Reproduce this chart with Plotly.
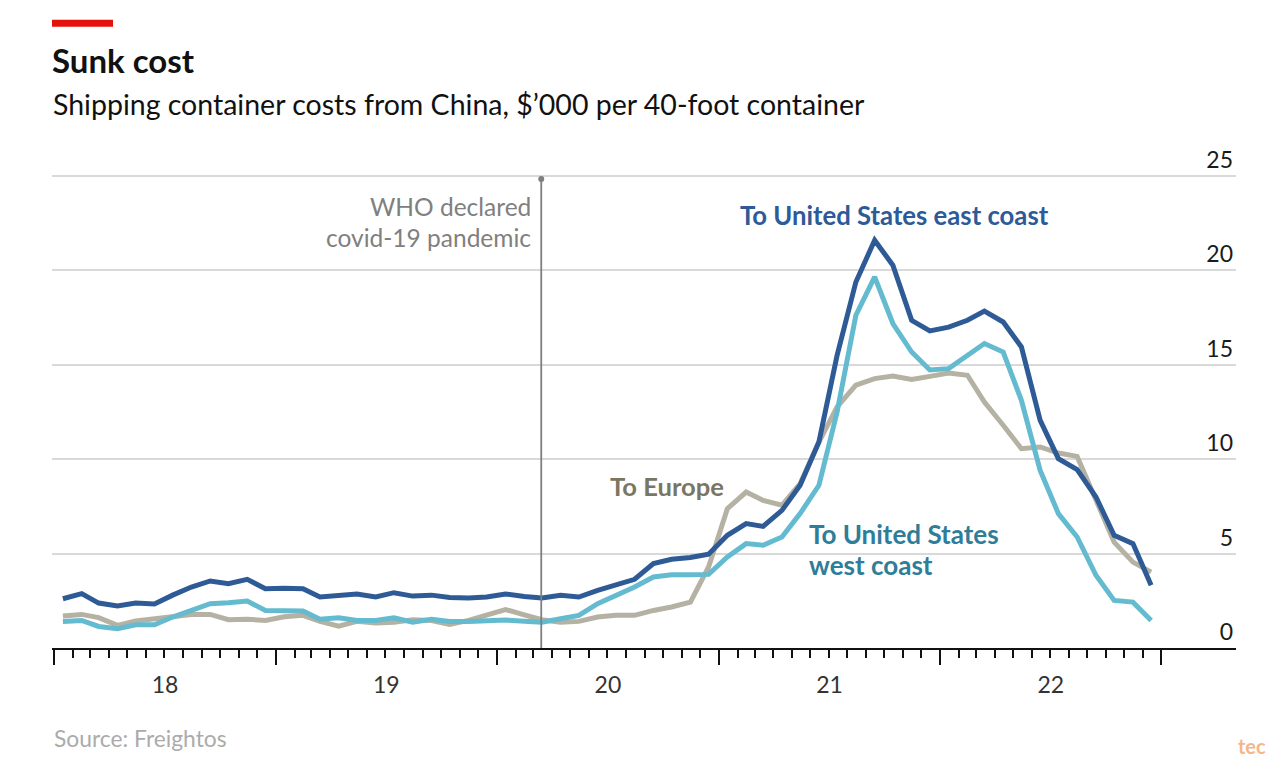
import plotly.graph_objects as go

# ---- data (monthly, Jan 2018 - Dec 2022), $'000 per 40-foot container ----
months = [f"{y}-{m:02d}-15" for y in range(2018, 2023) for m in range(1, 13)]

us_east = [2.61, 2.88, 2.38, 2.22, 2.38, 2.33, 2.80, 3.23, 3.55, 3.41, 3.64, 3.14,
           3.16, 3.14, 2.70, 2.77, 2.86, 2.70, 2.93, 2.75, 2.80, 2.68, 2.65, 2.70,
           2.86, 2.73, 2.65, 2.79, 2.70, 3.05, 3.37, 3.64, 4.47, 4.70, 4.79, 4.97,
           5.97, 6.59, 6.44, 7.29, 8.62, 10.91, 15.5, 19.39, 21.6, 20.28, 17.36, 16.8,
           17.0, 17.36, 17.85, 17.27, 15.95, 12.06, 10.03, 9.45, 8.0, 5.97, 5.53, 3.32]

us_west = [1.41, 1.46, 1.14, 1.02, 1.23, 1.23, 1.64, 2.03, 2.35, 2.40, 2.49, 1.99,
           1.99, 1.96, 1.52, 1.60, 1.46, 1.46, 1.60, 1.37, 1.52, 1.41, 1.41, 1.46,
           1.48, 1.42, 1.37, 1.55, 1.73, 2.35, 2.79, 3.23, 3.76, 3.88, 3.88, 3.90,
           4.82, 5.53, 5.44, 5.88, 7.12, 8.62, 12.5, 17.63, 19.66, 17.19, 15.68, 14.73,
           14.8, 15.5, 16.13, 15.68, 13.12, 9.41, 7.12, 5.88, 3.85, 2.52, 2.43, 1.46]

europe = [1.69, 1.78, 1.61, 1.20, 1.43, 1.55, 1.69, 1.78, 1.78, 1.50, 1.52, 1.46,
          1.65, 1.73, 1.41, 1.16, 1.41, 1.32, 1.36, 1.50, 1.46, 1.25, 1.46, 1.76,
          2.04, 1.75, 1.50, 1.37, 1.41, 1.64, 1.73, 1.73, 1.99, 2.17, 2.43, 4.29,
          7.38, 8.26, 7.82, 7.56, 8.71, 10.91, 12.77, 13.92, 14.27, 14.41, 14.23, 14.39,
          14.57, 14.45, 13.03, 11.80, 10.56, 10.65, 10.33, 10.15, 7.82, 5.61, 4.55, 4.02]

year_labels = ["18", "19", "20", "21", "22"]
y_ticks = [0, 5, 10, 15, 20, 25]
covid_date = "2020-03-14"

# ---- colours / fonts ----
C_EAST, C_WEST, C_EU = "#2E5B96", "#64BBD0", "#B5B1A3"
C_EAST_T, C_WEST_T, C_EU_T = "#2D5A98", "#2E7D99", "#7A7664"
FONT = "Lato"

OFF = 8  # page body margin
W, H = 1282 - 2 * OFF, 774 - 2 * OFF
Y_TOP = 27.6
L, R, B = 52, 1236, 648          # plot area in page pixels
T = B - Y_TOP * 18.87


def px(x):
    return (x - L) / (R - L)


def py(y):
    return (B - y) / (B - T)


fig = go.Figure()
for name, vals, col in [("To Europe", europe, C_EU),
                        ("To United States west coast", us_west, C_WEST),
                        ("To United States east coast", us_east, C_EAST)]:
    fig.add_trace(go.Scatter(x=months, y=vals, mode="lines", name=name,
                             line=dict(color=col, width=5), hoverinfo="x+y"))

# covid marker dot at top of the vertical line
fig.add_trace(go.Scatter(x=[covid_date], y=[24.85], mode="markers",
                         marker=dict(color="#7F7F7F", size=6), hoverinfo="skip"))

minor_vals = [f"{y}-{m:02d}-01" for y in range(2018, 2023) for m in range(1, 13)]

fig.update_layout(
    width=W, height=H,
    margin=dict(l=L - OFF, r=W - (R - OFF), t=T - OFF, b=H - (B - OFF)),
    paper_bgcolor="white", plot_bgcolor="white",
    showlegend=False,
    font=dict(family=FONT, color="#1a1a1a"),
    xaxis=dict(
        type="date",
        range=["2017-12-28", "2023-05-04"],
        tick0="2018-01-01", dtick="M12",
        ticklabelmode="period", tickformat="%y",
        ticks="outside", ticklen=15, tickwidth=1.8, tickcolor="#111",
        showline=True, linecolor="#111", linewidth=2,
        showgrid=False, zeroline=False,
        tickfont=dict(size=23, color="#333"),
        minor=dict(tickmode="array", tickvals=minor_vals, ticks="outside",
                   ticklen=8, tickwidth=1.5, tickcolor="#111", showgrid=False),
    ),
    yaxis=dict(
        range=[0, Y_TOP], side="right",
        tickvals=y_ticks, ticktext=[str(v) for v in y_ticks],
        ticklabelposition="inside top",
        showgrid=True, gridcolor="#D9D9D9", gridwidth=1.6,
        zeroline=False, showline=False, ticks="",
        tickfont=dict(size=23, color="#1a1a1a"),
    ),
)

# covid vertical line
fig.add_shape(type="line", x0=covid_date, x1=covid_date, y0=0, y1=24.85,
              xref="x", yref="y", line=dict(color="#7F7F7F", width=1.8), layer="above")

# white gap in 5-gridline behind the west coast label
fig.add_shape(type="rect", xref="paper", yref="y", x0=px(798), x1=px(970),
              y0=4.6, y1=5.4, fillcolor="white", line=dict(width=0), layer="between")

# red bar
fig.add_shape(type="rect", xref="paper", yref="paper", x0=px(52), x1=px(113),
              y0=py(27), y1=py(20), fillcolor="#E3120B", line=dict(width=0))

ann = []


def text(x, y, s, size, color, bold=False, xanchor="left"):
    ann.append(dict(x=px(x), y=py(y), xref="paper", yref="paper", text=s,
                    showarrow=False, xanchor=xanchor, yanchor="middle",
                    font=dict(family=FONT, size=size, color=color,
                              weight="bold" if bold else "normal")))


text(50, 60, "Sunk cost", 33, "#111", bold=True)
text(51, 104, "Shipping container costs from China, $’000 per 40-foot container", 28.5, "#111")
text(533, 207, "WHO declared", 24.5, "#808080", xanchor="right")
text(533, 238, "covid-19 pandemic", 24.5, "#808080", xanchor="right")
text(738, 215, "To United States east coast", 25.7, C_EAST_T, bold=True)
text(608, 486, "To Europe", 25.6, C_EU_T, bold=True)
text(807, 534, "To United States", 26, C_WEST_T, bold=True)
text(807, 565, "west coast", 26, C_WEST_T, bold=True)
text(52, 738, "Source: Freightos", 22.8, "#ABABAB")
text(1268, 746, "tec", 20, "#F3B88A", bold=True, xanchor="right")

fig.update_layout(annotations=ann)
fig.write_html("out.html")
